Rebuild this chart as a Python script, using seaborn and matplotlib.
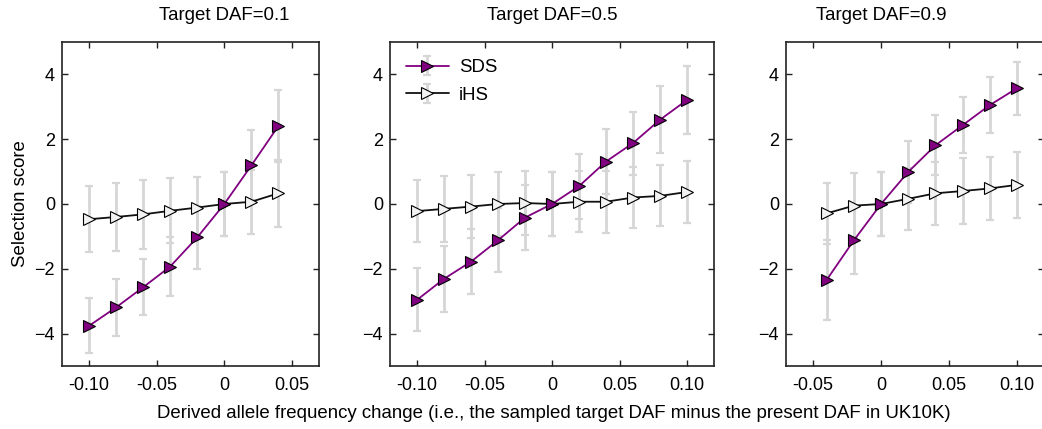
import numpy as np
import matplotlib
matplotlib.use("Agg")
import matplotlib.pyplot as plt
from matplotlib.legend_handler import HandlerTuple
import seaborn as sns

# Derived allele frequency change (sampled target DAF minus present DAF)
dx_01 = [-0.10, -0.08, -0.06, -0.04, -0.02, 0.00, 0.02, 0.04]
dx_05 = [-0.10, -0.08, -0.06, -0.04, -0.02, 0.00, 0.02, 0.04, 0.06, 0.08, 0.10]
dx_09 = [-0.04, -0.02, 0.00, 0.02, 0.04, 0.06, 0.08, 0.10]

# Mean selection scores and their spread, target DAF = 0.1
sds_01 = [-3.76, -3.19, -2.57, -1.93, -1.03, 0.00, 1.19, 2.41]
sds_01_err = [0.85, 0.88, 0.87, 0.92, 0.97, 1.00, 1.08, 1.12]
ihs_01 = [-0.47, -0.40, -0.32, -0.21, -0.11, 0.00, 0.07, 0.33]
ihs_01_err = [1.02, 1.05, 1.07, 1.00, 0.95, 1.00, 0.99, 1.04]

# target DAF = 0.5
sds_05 = [-2.96, -2.31, -1.78, -1.12, -0.42, 0.00, 0.55, 1.31, 1.88, 2.60, 3.21]
sds_05_err = [0.97, 1.02, 1.00, 0.99, 1.01, 1.00, 1.00, 1.01, 0.97, 1.03, 1.04]
ihs_05 = [-0.22, -0.15, -0.08, 0.00, 0.03, 0.00, 0.07, 0.07, 0.20, 0.25, 0.37]
ihs_05_err = [0.95, 1.01, 0.97, 0.98, 0.98, 1.00, 0.94, 0.96, 0.95, 0.94, 0.95]

# target DAF = 0.9
sds_09 = [-2.34, -1.12, 0.00, 0.99, 1.81, 2.43, 3.05, 3.57]
sds_09_err = [1.23, 1.05, 1.00, 0.95, 0.93, 0.87, 0.87, 0.81]
ihs_09 = [-0.29, -0.05, 0.00, 0.16, 0.33, 0.40, 0.48, 0.59]
ihs_09_err = [0.95, 1.01, 1.00, 0.96, 0.98, 1.03, 0.96, 1.02]

titles = ["Target DAF=0.1", "Target DAF=0.5", "Target DAF=0.9"]
xlims = [(-0.12, 0.07), (-0.12, 0.12), (-0.07, 0.12)]
xticks = [[-0.10, -0.05, 0.0, 0.05],
          [-0.10, -0.05, 0.0, 0.05, 0.10],
          [-0.05, 0.0, 0.05, 0.10]]
xticklabels = [["-0.10", "-0.05", "0", "0.05"],
               ["-0.10", "-0.05", "0", "0.05", "0.10"],
               ["-0.05", "0", "0.05", "0.10"]]
yticks = [-4, -2, 0, 2, 4]

sns.set_style("ticks")
plt.rcParams["font.family"] = ["Liberation Sans", "DejaVu Sans"]
plt.rcParams.update({
    "text.color": "black", "axes.labelcolor": "black",
    "xtick.direction": "in", "ytick.direction": "in",
    "xtick.top": True, "ytick.right": True,
    "xtick.major.size": 4.5, "ytick.major.size": 4.5,
    "xtick.major.width": 1.0, "ytick.major.width": 1.0,
    "xtick.color": "#222222", "ytick.color": "#222222",
    "xtick.labelcolor": "black", "ytick.labelcolor": "black",
    "xtick.major.pad": 8, "ytick.major.pad": 5,
    "xtick.labelsize": 13, "ytick.labelsize": 13,
    "axes.edgecolor": "#222222", "axes.linewidth": 1.2,
})

SDS_COLOR = "#800080"
ERR_COLOR = "#d6d6d6"
FS = 13.4

W, H = 1042, 429
fig = plt.figure(figsize=(W / 100, H / 100), dpi=100)

# axes boxes in pixels: left, right, top, bottom
boxes = [(62, 319, 42, 366), (390, 714, 42, 366), (786, 1044, 42, 366)]

panels = [
    (dx_01, sds_01, sds_01_err, ihs_01, ihs_01_err),
    (dx_05, sds_05, sds_05_err, ihs_05, ihs_05_err),
    (dx_09, sds_09, sds_09_err, ihs_09, ihs_09_err),
]

axes = []
for i, (box, data) in enumerate(zip(boxes, panels)):
    l, r, t, b = box
    ax = fig.add_axes([l / W, 1 - b / H, (r - l) / W, (b - t) / H])
    axes.append(ax)
    x, sds, sds_err, ihs, ihs_err = data
    x = np.asarray(x)

    eb_ihs = ax.errorbar(x, ihs, yerr=ihs_err, fmt="none", ecolor=ERR_COLOR,
                         elinewidth=2.0, capsize=3.2, capthick=1.6, zorder=1)
    eb_sds = ax.errorbar(x, sds, yerr=sds_err, fmt="none", ecolor=ERR_COLOR,
                         elinewidth=2.0, capsize=3.2, capthick=1.6, zorder=1)

    sns.lineplot(x=x, y=ihs, ax=ax, color="#111111", linewidth=1.3,
                 marker=">", markersize=8, markerfacecolor="#f2f2f2",
                 markeredgecolor="black", markeredgewidth=0.8, zorder=3)
    sns.lineplot(x=x, y=sds, ax=ax, color=SDS_COLOR, linewidth=1.3,
                 marker=">", markersize=8, markerfacecolor=SDS_COLOR,
                 markeredgecolor="black", markeredgewidth=0.8, zorder=4)
    line_ihs, line_sds = ax.get_lines()[-2], ax.get_lines()[-1]

    ax.set_xlim(*xlims[i])
    ax.set_ylim(-5, 5)
    ax.set_xticks(xticks[i])
    ax.set_xticklabels(xticklabels[i])
    ax.set_yticks(yticks)
    ax.set_xlabel("")
    ax.set_ylabel("")
    for s in ax.spines.values():
        s.set_visible(True)

    # title centred above zero change
    x0 = (0 - xlims[i][0]) / (xlims[i][1] - xlims[i][0])
    ax.text(x0, 1 + 27 / (b - t), titles[i], transform=ax.transAxes,
            ha="center", va="center", fontsize=FS)

    if i == 1:
        ax.legend(handles=[(eb_sds, line_sds), (eb_ihs, line_ihs)],
                  labels=["SDS", "iHS"],
                  handler_map={tuple: HandlerTuple(ndivide=1)},
                  loc="upper left", bbox_to_anchor=(16 / 324, 1 - 17 / 324),
                  frameon=False, fontsize=FS, handlelength=2.3,
                  handletextpad=0.55, labelspacing=0.58,
                  borderpad=0, borderaxespad=0, numpoints=1)

axes[0].set_ylabel("Selection score", fontsize=FS, labelpad=4)
fig.text(554 / W, 1 - 413 / H,
         "Derived allele frequency change (i.e., the sampled target DAF minus the present DAF in UK10K)",
         ha="center", va="center", fontsize=FS)

fig.savefig("out.png", dpi=100)
